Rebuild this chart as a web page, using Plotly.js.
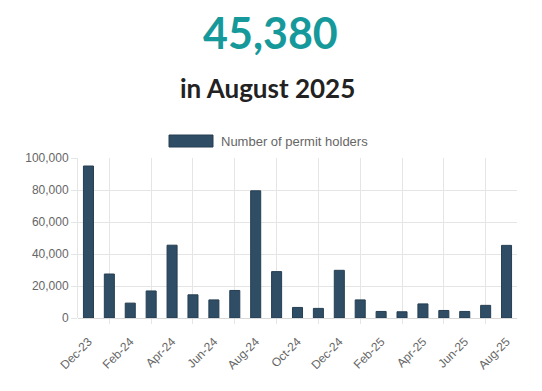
<!DOCTYPE html>
<html>
<head>
<meta charset="utf-8">
<script src="https://cdn.plot.ly/plotly-3.0.1.min.js"></script>
<style>
  html, body { margin: 0; padding: 0; background: #fff; }
  #chart { width: 542px; height: 391px; }
</style>
</head>
<body>
<div id="chart"></div>
<script>
const months = ["Dec-23","Jan-24","Feb-24","Mar-24","Apr-24","May-24","Jun-24","Jul-24","Aug-24","Sep-24","Oct-24","Nov-24","Dec-24","Jan-25","Feb-25","Mar-25","Apr-25","May-25","Jun-25","Jul-25","Aug-25"];
const permitHolders = [95000, 27500, 9300, 16900, 45500, 14500, 11300, 17200, 79500, 29000, 6600, 6000, 29800, 11300, 4100, 3900, 8800, 4700, 4100, 7900, 45380];
const seriesName = "Number of permit holders";
const headline = "45,380";
const subHeadline = "in August 2025";
const xTickLabels = months.filter((m, i) => i % 2 === 0);
const yTickVals = [0, 20000, 40000, 60000, 80000, 100000];

const gridIdx = months.map((m, i) => i).filter(i => i % 2 === 1);

const trace = {
  type: "bar",
  x: months,
  y: permitHolders,
  name: seriesName,
  marker: { color: "#2f4d64", line: { color: "#263f52", width: 1 } },
  hoverinfo: "x+y",
  showlegend: false
};

const PL = 78, PW = 439, PT = 158, PH = 160;

const layout = {
  width: 542,
  height: 391,
  margin: { l: PL, r: 25, t: PT, b: 73 },
  paper_bgcolor: "#fff",
  plot_bgcolor: "#fff",
  bargap: 0.52,
  showlegend: false,
  font: { family: "Liberation Sans, Arial, sans-serif", color: "#666", size: 12 },
  xaxis: {
    type: "category",
    categoryorder: "array",
    categoryarray: months,
    tickvals: xTickLabels,
    ticktext: xTickLabels,
    tickangle: -45,
    showgrid: false,
    ticks: "outside",
    ticklen: 11,
    tickcolor: "rgba(0,0,0,0)",
    tickfont: { size: 12, color: "#666" },
    showline: false,
    zeroline: false
  },
  xaxis2: {
    overlaying: "x",
    range: [-0.5, months.length - 0.5],
    tickvals: gridIdx,
    showticklabels: false,
    showgrid: true,
    gridcolor: "#e5e5e5",
    gridwidth: 1,
    ticks: "outside",
    ticklen: 5,
    tickcolor: "#e5e5e5",
    zeroline: false,
    showline: false,
    fixedrange: true
  },
  yaxis: {
    range: [0, 100000],
    tickvals: yTickVals,
    tickformat: ",d",
    showgrid: true,
    gridcolor: "#e5e5e5",
    gridwidth: 1,
    zeroline: true,
    zerolinecolor: "#d9d9d9",
    zerolinewidth: 1,
    showline: true,
    linecolor: "#e5e5e5",
    ticks: "outside",
    ticklen: 6,
    tickcolor: "#e5e5e5",
    tickfont: { size: 12, color: "#666" }
  },
  annotations: [
    { text: "<b>" + headline + "</b>", xref: "paper", yref: "paper", x: (270 - PL) / PW, xanchor: "center",
      y: 1, yanchor: "bottom", yshift: 98, showarrow: false,
      font: { family: "Lato, sans-serif", size: 43, color: "#16999a" } },
    { text: "<b>" + subHeadline + "</b>", xref: "paper", yref: "paper", x: (267 - PL) / PW, xanchor: "center",
      y: 1, yanchor: "bottom", yshift: 52, showarrow: false,
      font: { family: "Lato, sans-serif", size: 26, color: "#222" } },
    { text: seriesName, xref: "paper", yref: "paper", x: (219 - PL) / PW, xanchor: "left",
      y: 1, yanchor: "middle", yshift: 17, showarrow: false,
      font: { family: "Liberation Sans, Arial, sans-serif", size: 13, color: "#666" } }
  ],
  shapes: [
    { type: "rect", xref: "paper", yref: "paper",
      x0: (169 - PL) / PW, x1: (213 - PL) / PW,
      y0: 1 + (PT - 147) / PH, y1: 1 + (PT - 135) / PH,
      fillcolor: "#2f4d64", line: { color: "#263f52", width: 1 } }
  ]
};

const gridTrace = {
  type: "scatter", x: [], y: [], xaxis: "x2", yaxis: "y",
  showlegend: false, hoverinfo: "skip"
};

Plotly.newPlot("chart", [gridTrace, trace], layout, { displayModeBar: false, staticPlot: true });
</script>
</body>
</html>
